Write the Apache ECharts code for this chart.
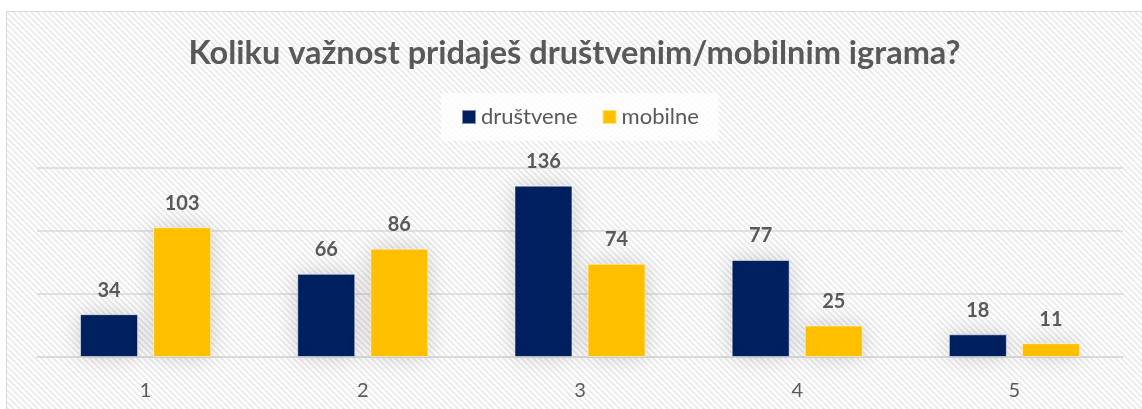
<!DOCTYPE html>
<html>
<head>
<meta charset="utf-8">
<script src="https://cdn.jsdelivr.net/npm/echarts@6/dist/echarts.min.js"></script>
<style>
  html, body { margin: 0; padding: 0; background: #fff; }
  #chart {
    position: absolute; left: 6px; top: 11px;
    width: 1135px; height: 398px;
    border-left: 1px solid #d9d9d9; border-top: 1px solid #d9d9d9;
  }
</style>
</head>
<body>
<div id="chart"></div>
<script>
const categories = ["1", "2", "3", "4", "5"];
const drustvene = [34, 66, 136, 77, 18];
const mobilne = [103, 86, 74, 25, 11];
const seriesNames = ["društvene", "mobilne"];

// diagonal hatch background
function makeHatch() {
  const c = document.createElement("canvas");
  c.width = 6; c.height = 6;
  const ctx = c.getContext("2d");
  ctx.fillStyle = "#ffffff";
  ctx.fillRect(0, 0, 6, 6);
  ctx.strokeStyle = "#e9e9e9";
  ctx.lineWidth = 1.6;
  ctx.beginPath();
  ctx.moveTo(0, 0); ctx.lineTo(6, 6);
  ctx.moveTo(-3, 3); ctx.lineTo(3, 9);
  ctx.moveTo(3, -3); ctx.lineTo(9, 3);
  ctx.stroke();
  return c;
}

const txt = "#595959";
const font = "Lato";

const labelStyle = {
  show: true,
  position: "top",
  distance: 14,
  color: txt,
  fontFamily: font,
  fontWeight: "bold",
  fontSize: 20
};

const barStyle = (color) => ({
  color: color,
  borderColor: "rgba(255,255,255,0.5)",
  borderWidth: 1,
  shadowColor: "rgba(0,0,0,0.18)",
  shadowBlur: 22
});

const myChart = echarts.init(document.getElementById("chart"));
myChart.setOption({
  backgroundColor: { image: makeHatch(), repeat: "repeat" },
  animation: false,
  title: {
    text: "Koliku važnost pridaješ društvenim/mobilnim igrama?",
    left: "center",
    top: 20,
    textStyle: {
      color: txt,
      fontFamily: font,
      fontWeight: "bold",
      fontSize: 32.5
    }
  },
  legend: {
    data: seriesNames,
    left: 434,
    top: 81,
    padding: [13, 20],
    backgroundColor: "rgba(255,255,255,0.75)",
    itemWidth: 14,
    itemHeight: 14,
    itemGap: 24,
    icon: "rect",
    textStyle: { color: txt, fontFamily: font, fontSize: 22 }
  },
  grid: { left: 30, right: 19, top: 156, bottom: 53 },
  xAxis: {
    type: "category",
    data: categories,
    axisLine: { lineStyle: { color: "#d9d9d9", width: 1.5 } },
    axisTick: { show: false },
    axisLabel: { color: txt, fontFamily: font, fontSize: 20, margin: 24 }
  },
  yAxis: {
    type: "value",
    min: 0,
    max: 150,
    interval: 50,
    axisLabel: { show: false },
    axisLine: { show: false },
    axisTick: { show: false },
    splitLine: { lineStyle: { color: "#d9d9d9", width: 1.5 } }
  },
  series: [
    {
      name: seriesNames[0],
      type: "bar",
      data: drustvene,
      barWidth: 58,
      barGap: "26%",
      itemStyle: barStyle("#002060"),
      label: labelStyle
    },
    {
      name: seriesNames[1],
      type: "bar",
      data: mobilne,
      barWidth: 58,
      barGap: "26%",
      itemStyle: barStyle("#ffc000"),
      label: labelStyle
    }
  ]
});
</script>
</body>
</html>
